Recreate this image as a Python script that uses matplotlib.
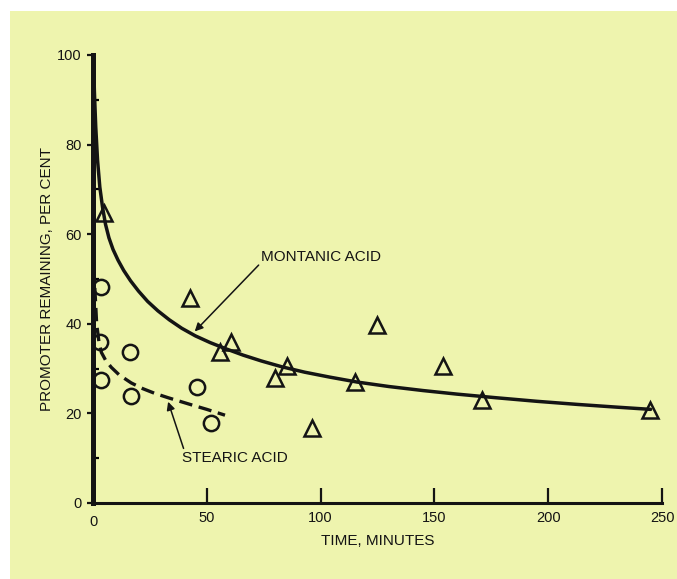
import matplotlib
matplotlib.use('Agg')
import matplotlib.pyplot as plt
from matplotlib.patches import Rectangle
from matplotlib.ticker import MultipleLocator

plt.rcParams['font.family'] = ['Liberation Sans', 'DejaVu Sans']

montanic_t = [5, 42.5, 55.7, 60.5, 80, 85.4, 96.1, 115.1, 124.9, 153.9, 170.8, 244.7]
montanic_pct = [64.7, 45.7, 33.8, 36, 27.8, 30.6, 16.7, 26.9, 39.7, 30.6, 23, 20.8]
montanic_curve_t = [0.2, 0.6, 1.2, 2.0, 3.0, 4.2, 5.5, 7.0, 8.8, 11, 13.5, 16.5, 20,
                    24, 28.5, 33.5, 39, 45, 51.5, 58.5, 66, 74, 83, 93, 104, 116, 130,
                    145, 160, 177, 195, 213, 230, 245]
montanic_curve_pct = [100, 92, 84, 76.5, 70.5, 66, 62.2, 59.2, 56.6, 54.2, 51.9, 49.6,
                      47.3, 45.0, 42.9, 40.9, 39.0, 37.3, 35.8, 34.4, 33.0, 31.7, 30.4,
                      29.2, 28.1, 27.0, 26.0, 25.1, 24.3, 23.5, 22.7, 22.0, 21.4, 20.9]

# Stearic acid: measured points and the dashed curve
stearic_t = [3.4, 2.9, 3.7, 16.1, 16.8, 45.8, 52]
stearic_pct = [48.3, 36, 27.5, 33.8, 23.9, 25.8, 17.8]
stearic_curve_t = [0.8, 1.6, 2.6, 3.7, 5.5, 8, 11.5, 16.8, 22, 27, 33, 38.8, 44, 50, 58]
stearic_curve_pct = [48, 40, 36, 33.6, 31.9, 30.3, 28.6, 26.8, 25.5, 24.5, 23.5, 22.6,
                     21.8, 20.9, 19.6]

x_ticks = [50, 100, 150, 200, 250]
y_ticks = [0, 20, 40, 60, 80, 100]

bg = '#eef4ae'
ink = '#141414'

fig = plt.figure(figsize=(6.77, 5.79), dpi=100, facecolor='white')
fig.add_artist(Rectangle((10 / 677, 0), 1, 1 - 11 / 579, transform=fig.transFigure,
                         facecolor=bg, edgecolor='none', zorder=-10))

ax = fig.add_axes([93 / 677, 76 / 579, 569 / 677, 448 / 579])
ax.set_facecolor('none')
ax.set_xlim(0, 250)
ax.set_ylim(0, 100)

for s in ['top', 'right']:
    ax.spines[s].set_visible(False)
ax.spines['left'].set_linewidth(3.6)
ax.spines['bottom'].set_linewidth(2.2)
ax.spines['left'].set_color(ink)
ax.spines['bottom'].set_color(ink)

# curves
ax.plot(montanic_curve_t, montanic_curve_pct, color=ink, lw=2.5, clip_on=False,
        solid_capstyle='round', solid_joinstyle='round', zorder=3)
ax.plot(stearic_curve_t, stearic_curve_pct, color=ink, lw=2.4, clip_on=False,
        dashes=(4, 2), zorder=3)

# data points
ax.plot(montanic_t, montanic_pct, linestyle='none', marker='^', ms=12,
        mfc='none', mec=ink, mew=1.8, clip_on=False, zorder=4)
ax.plot(stearic_t, stearic_pct, linestyle='none', marker='o', ms=11,
        mfc='none', mec=ink, mew=1.8, clip_on=False, zorder=4)

# labels with arrows
arrow = dict(arrowstyle='-|>', color=ink, lw=1.1, mutation_scale=12, shrinkA=0, shrinkB=0)
ax.annotate('MONTANIC ACID', xy=(44.7, 38.3), xytext=(74, 55), fontsize=11, color=ink,
            ha='left', va='center', arrowprops=dict(arrow, relpos=(0, 0.1)))
ax.annotate('STEARIC ACID', xy=(33, 22.6), xytext=(39, 10), fontsize=11, color=ink,
            ha='left', va='center', arrowprops=dict(arrow, relpos=(0.03, 0.9)))

ax.set_xticks(x_ticks)
ax.set_yticks(y_ticks)
ax.yaxis.set_minor_locator(MultipleLocator(10))
ax.tick_params(axis='x', direction='in', length=11, width=1.6, pad=6,
               labelsize=10.5, colors=ink)
ax.tick_params(axis='y', which='major', direction='out', length=4, width=1.6, pad=4,
               labelsize=10.5, colors=ink)
ax.tick_params(axis='y', which='minor', direction='in', length=4, width=1.6)

# 0 label at the origin on the x axis
ax.text(0, -2.6, '0', transform=ax.transData, ha='center', va='top', fontsize=10.5,
        color=ink)

ax.set_xlabel('TIME, MINUTES', fontsize=11, color=ink, labelpad=6)
ax.set_ylabel('PROMOTER REMAINING, PER CENT', fontsize=11, color=ink, labelpad=2)

fig.savefig('out.png', dpi=100, facecolor='white')
